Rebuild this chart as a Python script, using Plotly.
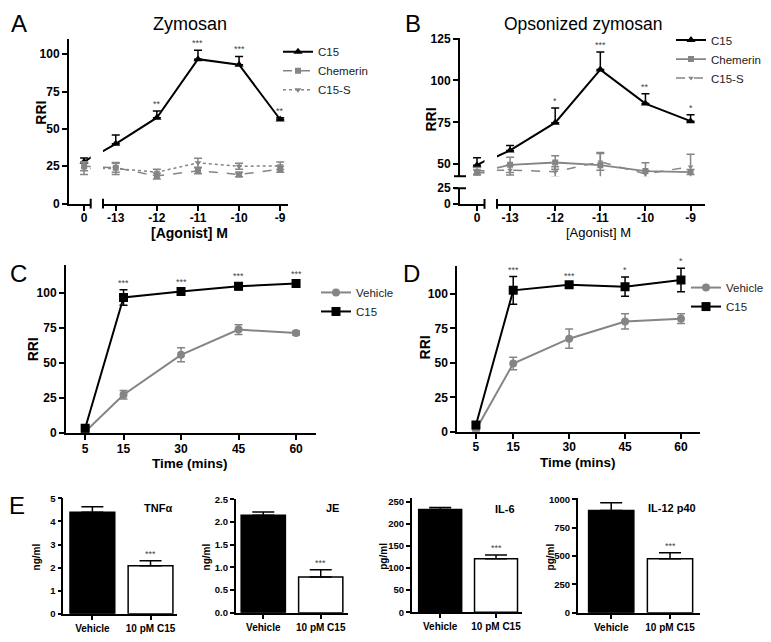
import plotly.graph_objects as go

W, H = 771, 642
FONT = "Liberation Sans, Arial, sans-serif"
GRAY = "#858585"
STAR = "#444444"

# ---------------- data ----------------
conc_labels = ["0", "-13", "-12", "-11", "-10", "-9"]
conc = [0, -13, -12, -11, -10, -9]

A_c15 = [28, 40, 57.5, 96.7, 93, 56.3]
A_c15_err = [2.5, 6, 4.5, 6, 5.5, 1.2]
A_chem = [25, 24, 18.5, 22, 19.5, 23]
A_chem_err = [3, 3, 2, 2, 1.5, 2]
A_c15s = [23.5, 23.5, 21, 27.3, 25, 25.3]
A_c15s_err = [4, 4, 2, 3, 2, 2.5]
A_stars = ["", "", "**", "***", "***", "**"]

B_c15 = [49.4, 58.2, 74.8, 106.5, 86.2, 75.7]
B_c15_err = [4.5, 3, 8.7, 10.5, 5.8, 3.9]
B_chem = [45, 49.6, 51, 49.4, 45.9, 45.3]
B_chem_err = [1.5, 4.5, 4, 7.5, 5, 1.5]
B_c15s = [46, 46.5, 45.5, 51.4, 44.2, 48.5]
B_c15s_err = [2, 3, 3, 5, 2, 7.5]
B_stars = ["", "", "*", "***", "**", "*"]

time_min = [5, 15, 30, 45, 60]
C_vehicle = [1, 27.5, 56, 74, 71.6]
C_vehicle_err = [0.5, 3, 5, 3.5, 1.5]
C_c15 = [3.5, 97, 101.2, 105, 107]
C_c15_err = [1, 5.5, 1.5, 2.5, 1.5]
C_stars = ["", "***", "***", "***", "***"]

D_vehicle = [1.5, 49.5, 67.5, 80, 82]
D_vehicle_err = [0.5, 4.5, 7, 5.5, 3.5]
D_c15 = [5, 102.5, 106.6, 105.2, 110]
D_c15_err = [1, 10, 1.5, 7, 8.5]
D_stars = ["", "***", "***", "*", "*"]

E_groups = ["Vehicle", "10 pM C15"]
E_names = ["TNF\u03b1", "JE", "IL-6", "IL-12 p40"]
E_units = ["ng/ml", "ng/ml", "pg/ml", "pg/ml"]
E_means = [[4.4, 2.08], [2.15, 0.79], [232, 121], [900, 475]]
E_errs = [[0.24, 0.22], [0.07, 0.16], [4.5, 8.5], [70, 53]]
E_stars = ["***", "***", "***", "***"]
E_ticks = [[0, 1, 2, 3, 4, 5], [0, 0.5, 1.0, 1.5, 2.0, 2.5],
           [0, 50, 100, 150, 200, 250], [0, 250, 500, 750, 1000]]
E_ticktext = [None, ["0.0", "0.5", "1.0", "1.5", "2.0", "2.5"], None, None]


# ---------------- helpers ----------------
def fx(p):
    return p / W


def fy(p):
    return 1 - p / H


def xdom(a, b):
    return [fx(a), fx(b)]


def ydom(top, bottom):
    return [fy(bottom), fy(top)]


ZERO_A = -13.77
ZERO_B = -13.73


def dose_pos(vals, zero):
    return [zero if v == 0 else v for v in vals]


def tickfont(size=12):
    return dict(family=FONT, size=size, color="black", weight="bold")


def axis(domain, rng, anchor, tickvals=None, ticktext=None, size=12,
         ticks="outside", ticklen=5, **kw):
    d = dict(domain=domain, range=rng, anchor=anchor, showline=True,
             linecolor="black", linewidth=2, ticks=ticks, ticklen=ticklen,
             tickwidth=2, tickcolor="black", showgrid=False, zeroline=False,
             tickfont=tickfont(size), fixedrange=True)
    if tickvals is not None:
        d["tickvals"] = tickvals
    if ticktext is not None:
        d["ticktext"] = ticktext
    d.update(kw)
    return d


fig = go.Figure()
annotations = []
shapes = []


def add_line(xs, ys, err, name, color, dash, symbol, msize, lw, xaxes, yaxis,
             legend, upper_only, showlegend=True):
    for i, xa in enumerate(xaxes):
        if upper_only:
            ey = dict(type="data", array=err, arrayminus=[0] * len(err),
                      symmetric=False, color=color, thickness=1.5, width=4)
        else:
            ey = dict(type="data", array=err, symmetric=True, color=color,
                      thickness=1.5, width=4)
        fig.add_trace(go.Scatter(
            x=xs, y=ys, name=name, mode="lines+markers",
            line=dict(color=color, width=lw, dash=dash),
            marker=dict(symbol=symbol, size=msize, color=color),
            error_y=ey, xaxis=xa, yaxis=yaxis, legend=legend,
            showlegend=(showlegend and i == 0)))


def add_stars(xs, ys, errs, stars, xref, yref):
    for x, y, e, s in zip(xs, ys, errs, stars):
        if s:
            annotations.append(dict(x=x, y=y + e, xref=xref, yref=yref,
                                    text=s, showarrow=False, yanchor="bottom",
                                    yshift=0,
                                    font=dict(family=FONT, size=9, color=STAR)))


def text(x, y, s, size, bold=False, angle=0, color="black", xanchor="center"):
    annotations.append(dict(x=fx(x), y=fy(y), xref="paper", yref="paper",
                            text=s, showarrow=False, textangle=angle,
                            xanchor=xanchor, yanchor="middle",
                            font=dict(family=FONT, size=size, color=color,
                                      weight="bold" if bold else "normal")))


def cap_v(x, y, half=5):
    shapes.append(dict(type="line", xref="paper", yref="paper",
                       x0=fx(x), x1=fx(x), y0=fy(y - half), y1=fy(y + half),
                       line=dict(color="black", width=2)))


def cap_h(x, y, half=5):
    shapes.append(dict(type="line", xref="paper", yref="paper",
                       x0=fx(x - half), x1=fx(x + half), y0=fy(y), y1=fy(y),
                       line=dict(color="black", width=2)))


# ---------------- Panel A ----------------
xa = dose_pos(conc, ZERO_A)
add_line(xa, A_c15, A_c15_err, "C15", "black", "solid", "triangle-up", 8, 2,
         ["x", "x2"], "y", "legend", True)
add_line(xa, A_chem, A_chem_err, "Chemerin", GRAY, "dash", "square", 6, 1.5,
         ["x", "x2"], "y", "legend", False)
add_line(xa, A_c15s, A_c15s_err, "C15-S", GRAY, "dot", "triangle-down", 6, 1.5,
         ["x", "x2"], "y", "legend", False)
add_stars(xa, A_c15, A_c15_err, A_stars, "x2", "y")

# ---------------- Panel B ----------------
xb = dose_pos(conc, ZERO_B)
add_line(xb, B_c15, B_c15_err, "C15", "black", "solid", "triangle-up", 8, 2,
         ["x3", "x4"], "y2", "legend2", True)
add_line(xb, B_chem, B_chem_err, "Chemerin", GRAY, "solid", "square", 6, 1.8,
         ["x3", "x4"], "y2", "legend2", False)
add_line(xb, B_c15s, B_c15s_err, "C15-S", GRAY, "dash", "triangle-down", 5, 1.5,
         ["x3", "x4"], "y2", "legend2", False)
add_stars(xb, B_c15, B_c15_err, B_stars, "x4", "y2")
# empty trace so the lower (broken) y segment of panel B gets its own subplot
fig.add_trace(go.Scatter(x=[], y=[], xaxis="x3", yaxis="y3", showlegend=False,
                         hoverinfo="skip"))

# ---------------- Panel C ----------------
add_line(time_min, C_vehicle, C_vehicle_err, "Vehicle", GRAY, "solid", "circle",
         8, 2, ["x5"], "y4", "legend3", False)
add_line(time_min, C_c15, C_c15_err, "C15", "black", "solid", "square",
         9, 2, ["x5"], "y4", "legend3", False)
add_stars(time_min, C_c15, C_c15_err, C_stars, "x5", "y4")

# ---------------- Panel D ----------------
add_line(time_min, D_vehicle, D_vehicle_err, "Vehicle", GRAY, "solid", "circle",
         8, 2, ["x6"], "y5", "legend4", False)
add_line(time_min, D_c15, D_c15_err, "C15", "black", "solid", "square",
         9, 2, ["x6"], "y5", "legend4", False)
add_stars(time_min, D_c15, D_c15_err, D_stars, "x6", "y5")

# ---------------- Panel E ----------------
E_xdom = [(63.3, 176.7), (235.7, 348.3), (411.7, 521.7), (577.7, 700)]
E_ydom = [(502.3, 620.3), (503.3, 619.3), (502, 618.7), (502.3, 619.3)]
E_ymax = [5, 2.5, 258, 1008]
E_xr = [[-0.5, 1.45], [-0.48, 1.48], [-0.51, 1.46], [-0.57, 1.51]]
for k in range(4):
    xn, yn = "x%d" % (7 + k), "y%d" % (6 + k)
    fig.add_trace(go.Bar(
        x=E_groups, y=E_means[k], width=0.77,
        marker=dict(color=["black", "white"], line=dict(color="black", width=1.5)),
        error_y=dict(type="data", array=E_errs[k], arrayminus=[0, 0],
                     symmetric=False, color="black", thickness=1.5, width=11),
        xaxis=xn, yaxis=yn, showlegend=False))
    annotations.append(dict(x=E_groups[1], y=E_means[k][1] + E_errs[k][1],
                            xref=xn, yref=yn, text=E_stars[k], showarrow=False,
                            yanchor="bottom",
                            font=dict(family=FONT, size=9, color=STAR)))

# ---------------- layout axes ----------------
lay = {}
# A
lay["xaxis"] = axis(xdom(69, 90.7), [ZERO_A - 15.3 / 41.15, ZERO_A + 6.7 / 41.15],
                    "y", [ZERO_A], ["0"], ticklabelstandoff=-3)
lay["xaxis2"] = axis(xdom(103, 288), [-13.31, -8.81], "y", conc[1:], conc_labels[1:],
                     ticklabelstandoff=-3)
lay["yaxis"] = axis(ydom(33, 201), [0, 110], "x", [0, 25, 50, 75, 100])
# B
lay["xaxis3"] = axis(xdom(460, 484.5), [ZERO_B - 17 / 45.2, ZERO_B + 7.5 / 45.2],
                     "y3", [ZERO_B], ["0"], ticklabelstandoff=-3)
lay["xaxis4"] = axis(xdom(497, 705), [-13.29, -8.68], "y3", conc[1:], conc_labels[1:],
                     ticklabelstandoff=-3)
lay["yaxis2"] = axis(ydom(32, 173), [42.8, 125.2], "x3", [50, 75, 100, 125])
lay["yaxis3"] = axis(ydom(185.3, 201.3), [0, 25], "x3", [0, 25])
# C
lay["xaxis5"] = axis(xdom(66, 316), [0, 65.2], "y4", time_min, ticklabelstandoff=-2)
lay["yaxis4"] = axis(ydom(264, 435.7), [0, 120], "x5", [0, 25, 50, 75, 100])
# D
lay["xaxis6"] = axis(xdom(457.3, 700), [0, 65.1], "y5", time_min, ticklabelstandoff=-2)
lay["yaxis5"] = axis(ydom(265, 434.3), [0, 120], "x6", [0, 25, 50, 75, 100])
# E
for k in range(4):
    xn, yn = "xaxis%d" % (7 + k), "yaxis%d" % (6 + k)
    lay[xn] = axis(xdom(*E_xdom[k]), E_xr[k], "y%d" % (6 + k), size=10,
                   ticklen=4, type="category", linewidth=1.5, tickwidth=1.5)
    lay[yn] = axis(ydom(*E_ydom[k]), [0, E_ymax[k]], "x%d" % (7 + k),
                   E_ticks[k], E_ticktext[k], size=9.5, ticklen=4,
                   linewidth=1.5, tickwidth=1.5)

# break caps
cap_v(90.7, 201)
cap_v(103, 201)
cap_v(484.5, 201.3)
cap_v(497, 201.3)
cap_h(460, 173, 6)
cap_h(460, 185.3, 6)

# ---------------- text ----------------
text(19, 17, "A", 24)
text(413, 17, "B", 24)
text(18, 272, "C", 24)
text(411, 272, "D", 24)
text(17, 510, "E", 24)
text(190, 17, "Zymosan", 18)
text(583, 17, "Opsonized zymosan", 17.5)
text(41, 108, "RRI", 14, True, -90)
text(431, 115, "RRI", 14, True, -90)
text(33, 350, "RRI", 14, True, -90)
text(425, 348, "RRI", 14, True, -90)
text(189, 231, "[Agonist] M", 14, True)
text(598, 231, "[Agonist] M", 13)
text(190, 467, "Time (mins)", 13.5, True)
text(578, 466, "Time (mins)", 13.5, True)
E_ylab_x = [36.7, 206.7, 384, 550.7]
E_title_xy = [(158, 512), (332, 512), (505, 513), (672, 512)]
for k in range(4):
    text(E_ylab_x[k], 562, E_units[k], 10, True, -90)
    text(E_title_xy[k][0], E_title_xy[k][1], E_names[k], 11, True)

leg_common = dict(xanchor="left", yanchor="top", itemwidth=30,
                  bgcolor="rgba(0,0,0,0)",
                  font=dict(family=FONT, size=11.5, color="#222222"))
lay["legend"] = dict(x=fx(278), y=fy(31), **leg_common)
lay["legend2"] = dict(x=fx(671), y=fy(19), **leg_common)
lay["legend3"] = dict(x=fx(316), y=fy(277), **leg_common)
lay["legend4"] = dict(x=fx(686), y=fy(272), **leg_common)

fig.update_layout(
    width=W, height=H, margin=dict(l=0, r=0, t=0, b=0),
    paper_bgcolor="white", plot_bgcolor="white",
    font=dict(family=FONT, color="black"),
    annotations=annotations, shapes=shapes, bargap=0.2,
    **lay)

fig.write_html("out.html", config={"displayModeBar": False},
               post_script="document.body.style.margin='0';")
